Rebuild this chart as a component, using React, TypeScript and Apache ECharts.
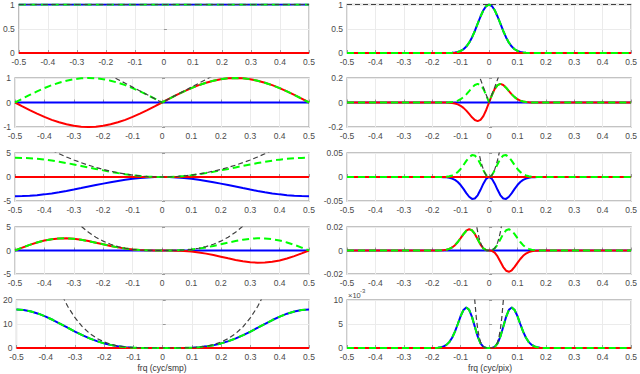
import React, { useEffect, useRef } from "react";
import * as echarts from "echarts";

// ---------- data ----------
const FREQ_ENDS = [-0.5, 0.5];
const ONES = [1, 1];
const ZEROS = [0, 0];

// left column (finite differences), cycles/sample
const FREQ_L = [-0.5,-0.475,-0.45,-0.425,-0.4,-0.375,-0.35,-0.325,-0.3,-0.275,-0.25,-0.225,-0.2,-0.175,-0.15,-0.125,-0.1,-0.075,-0.05,-0.025,0,0.025,0.05,0.075,0.1,0.125,0.15,0.175,0.2,0.225,0.25,0.275,0.3,0.325,0.35,0.375,0.4,0.425,0.45,0.475,0.5];
const L2_IMAG = [0,-0.1564,-0.309,-0.454,-0.5878,-0.7071,-0.809,-0.891,-0.9511,-0.9877,-1,-0.9877,-0.9511,-0.891,-0.809,-0.7071,-0.5878,-0.454,-0.309,-0.1564,0,0.1564,0.309,0.454,0.5878,0.7071,0.809,0.891,0.9511,0.9877,1,0.9877,0.9511,0.891,0.809,0.7071,0.5878,0.454,0.309,0.1564,0];
const L2_MAG = [0,0.1564,0.309,0.454,0.5878,0.7071,0.809,0.891,0.9511,0.9877,1,0.9877,0.9511,0.891,0.809,0.7071,0.5878,0.454,0.309,0.1564,0,0.1564,0.309,0.454,0.5878,0.7071,0.809,0.891,0.9511,0.9877,1,0.9877,0.9511,0.891,0.809,0.7071,0.5878,0.454,0.309,0.1564,0];
const L3_REAL = [-4,-3.9754,-3.9021,-3.782,-3.618,-3.4142,-3.1756,-2.908,-2.618,-2.3129,-2,-1.6871,-1.382,-1.092,-0.8244,-0.5858,-0.382,-0.218,-0.0979,-0.0246,0,-0.0246,-0.0979,-0.218,-0.382,-0.5858,-0.8244,-1.092,-1.382,-1.6871,-2,-2.3129,-2.618,-2.908,-3.1756,-3.4142,-3.618,-3.782,-3.9021,-3.9754,-4];
const L3_MAG = [4,3.9754,3.9021,3.782,3.618,3.4142,3.1756,2.908,2.618,2.3129,2,1.6871,1.382,1.092,0.8244,0.5858,0.382,0.218,0.0979,0.0246,0,0.0246,0.0979,0.218,0.382,0.5858,0.8244,1.092,1.382,1.6871,2,2.3129,2.618,2.908,3.1756,3.4142,3.618,3.782,3.9021,3.9754,4];
const L4_IMAG = [0,0.6219,1.2058,1.717,2.1266,2.4142,2.5691,2.591,2.4899,2.2844,2,1.6664,1.3143,0.973,0.667,0.4142,0.2245,0.099,0.0302,0.0039,0,-0.0039,-0.0302,-0.099,-0.2245,-0.4142,-0.667,-0.973,-1.3143,-1.6664,-2,-2.2844,-2.4899,-2.591,-2.5691,-2.4142,-2.1266,-1.717,-1.2058,-0.6219,0];
const L4_MAG = [0,0.6219,1.2058,1.717,2.1266,2.4142,2.5691,2.591,2.4899,2.2844,2,1.6664,1.3143,0.973,0.667,0.4142,0.2245,0.099,0.0302,0.0039,0,0.0039,0.0302,0.099,0.2245,0.4142,0.667,0.973,1.3143,1.6664,2,2.2844,2.4899,2.591,2.5691,2.4142,2.1266,1.717,1.2058,0.6219,0];
const L5_REAL = [16,15.8036,15.2265,14.3037,13.0901,11.6568,10.0842,8.4564,6.8541,5.3494,4,2.8464,1.9098,1.1925,0.6797,0.3431,0.1459,0.0475,0.0096,0.0006,0,0.0006,0.0096,0.0475,0.1459,0.3431,0.6797,1.1925,1.9098,2.8464,4,5.3494,6.8541,8.4564,10.0842,11.6568,13.0901,14.3037,15.2265,15.8036,16];

// ideal responses (black dashed), left column
const IDEAL_FREQ_L = [-0.375,-0.35,-0.325,-0.3,-0.275,-0.25,-0.225,-0.2,-0.175,-0.15,-0.125,-0.1,-0.075,-0.05,-0.025,0,0.025,0.05,0.075,0.1,0.125,0.15,0.175,0.2,0.225,0.25,0.275,0.3,0.325,0.35,0.375];
const IDEAL_L_D1 = [2.3562,2.1991,2.042,1.885,1.7279,1.5708,1.4137,1.2566,1.0996,0.9425,0.7854,0.6283,0.4712,0.3142,0.1571,0,0.1571,0.3142,0.4712,0.6283,0.7854,0.9425,1.0996,1.2566,1.4137,1.5708,1.7279,1.885,2.042,2.1991,2.3562];
const IDEAL_L_D2 = [5.5517,4.8361,4.1699,3.5531,2.9856,2.4674,1.9986,1.5791,1.209,0.8883,0.6169,0.3948,0.2221,0.0987,0.0247,0,0.0247,0.0987,0.2221,0.3948,0.6169,0.8883,1.209,1.5791,1.9986,2.4674,2.9856,3.5531,4.1699,4.8361,5.5517];
const IDEAL_L_D3 = [13.0808,10.6351,8.5151,6.6973,5.1587,3.8758,2.8254,1.9844,1.3294,0.8372,0.4845,0.2481,0.1046,0.031,0.0039,0,0.0039,0.031,0.1046,0.2481,0.4845,0.8372,1.3294,1.9844,2.8254,3.8758,5.1587,6.6973,8.5151,10.6351,13.0808];
const IDEAL_L_D4 = [30.8208,23.3879,17.3881,12.624,8.9135,6.0881,3.9944,2.4937,1.4617,0.789,0.3805,0.1559,0.0493,0.0097,0.0006,0,0.0006,0.0097,0.0493,0.1559,0.3805,0.789,1.4617,2.4937,3.9944,6.0881,8.9135,12.624,17.3881,23.3879,30.8208];

// right column (Gaussian derivatives), cycles/pixel
const FREQ_R = [-0.5,-0.2,-0.19,-0.18,-0.17,-0.16,-0.15,-0.14,-0.13,-0.12,-0.11,-0.1,-0.09,-0.08,-0.07,-0.06,-0.05,-0.04,-0.03,-0.02,-0.01,0,0.01,0.02,0.03,0.04,0.05,0.06,0.07,0.08,0.09,0.1,0.11,0.12,0.13,0.14,0.15,0.16,0.17,0.18,0.19,0.2,0.5];
const R1_REAL = [0,0,0,0,0.0001,0.0003,0.0008,0.002,0.0048,0.0106,0.0219,0.0425,0.0774,0.1325,0.2128,0.3208,0.454,0.6033,0.7526,0.8813,0.9689,1,0.9689,0.8813,0.7526,0.6033,0.454,0.3208,0.2128,0.1325,0.0774,0.0425,0.0219,0.0106,0.0048,0.002,0.0008,0.0003,0.0001,0,0,0,0];
const R2_IMAG = [0,0,-0.00001,-0.00004,-0.00012,-0.00031,-0.00077,-0.0018,-0.0039,-0.008,-0.0151,-0.0267,-0.0438,-0.0666,-0.0936,-0.1209,-0.1426,-0.1516,-0.1419,-0.1108,-0.0609,0,0.0609,0.1108,0.1419,0.1516,0.1426,0.1209,0.0936,0.0666,0.0438,0.0267,0.0151,0.008,0.0039,0.0018,0.00077,0.00031,0.00012,0.00004,0.00001,0,0];
const R2_MAG = [0,0,0.00001,0.00004,0.00012,0.00031,0.00077,0.0018,0.0039,0.008,0.0151,0.0267,0.0438,0.0666,0.0936,0.1209,0.1426,0.1516,0.1419,0.1108,0.0609,0,0.0609,0.1108,0.1419,0.1516,0.1426,0.1209,0.0936,0.0666,0.0438,0.0267,0.0151,0.008,0.0039,0.0018,0.00077,0.00031,0.00012,0.00004,0.00001,0,0];
const R3_REAL = [0,-0.000005,-0.000016,-0.000046,-0.000124,-0.000311,-0.000728,-0.001585,-0.003205,-0.006015,-0.010461,-0.016778,-0.024751,-0.033478,-0.041165,-0.045593,-0.044808,-0.038108,-0.026741,-0.013917,-0.003825,0,-0.003825,-0.013917,-0.026741,-0.038108,-0.044808,-0.045593,-0.041165,-0.033478,-0.024751,-0.016778,-0.010461,-0.006015,-0.003205,-0.001585,-0.000728,-0.000311,-0.000124,-0.000046,-0.000016,-0.000005,0];
const R3_MAG = [0,0.000005,0.000016,0.000046,0.000124,0.000311,0.000728,0.001585,0.003205,0.006015,0.010461,0.016778,0.024751,0.033478,0.041165,0.045593,0.044808,0.038108,0.026741,0.013917,0.003825,0,0.003825,0.013917,0.026741,0.038108,0.044808,0.045593,0.041165,0.033478,0.024751,0.016778,0.010461,0.006015,0.003205,0.001585,0.000728,0.000311,0.000124,0.000046,0.000016,0.000005,0];
const R4_IMAG = [0,0.0000065,0.000019,0.000052,0.000133,0.000313,0.000686,0.001395,0.002618,0.004535,0.00723,0.010542,0.013996,0.016828,0.018105,0.017188,0.014077,0.009578,0.005041,0.001749,0.00024,0,-0.00024,-0.001749,-0.005041,-0.009578,-0.014077,-0.017188,-0.018105,-0.016828,-0.013996,-0.010542,-0.00723,-0.004535,-0.002618,-0.001395,-0.000686,-0.000313,-0.000133,-0.000052,-0.000019,-0.0000065,0];
const R4_MAG = [0,0.0000065,0.000019,0.000052,0.000133,0.000313,0.000686,0.001395,0.002618,0.004535,0.00723,0.010542,0.013996,0.016828,0.018105,0.017188,0.014077,0.009578,0.005041,0.001749,0.00024,0,0.00024,0.001749,0.005041,0.009578,0.014077,0.017188,0.018105,0.016828,0.013996,0.010542,0.00723,0.004535,0.002618,0.001395,0.000686,0.000313,0.000133,0.000052,0.000019,0.0000065,0];
const R5_REAL = [0,0.0000082,0.0000227,0.0000587,0.000142,0.000315,0.000647,0.001227,0.002138,0.003419,0.004997,0.006624,0.007915,0.008459,0.007963,0.00648,0.004422,0.002407,0.00095,0.00022,0.0000151,0,0.0000151,0.00022,0.00095,0.002407,0.004422,0.00648,0.007963,0.008459,0.007915,0.006624,0.004997,0.003419,0.002138,0.001227,0.000647,0.000315,0.000142,0.0000587,0.0000227,0.0000082,0];

// ideal responses (black dashed), right column
const IDEAL_FREQ_R = [-0.06,-0.055,-0.05,-0.045,-0.04,-0.035,-0.03,-0.025,-0.02,-0.015,-0.01,-0.005,0,0.005,0.01,0.015,0.02,0.025,0.03,0.035,0.04,0.045,0.05,0.055,0.06];
const IDEAL_R_D1 = [0.377,0.3456,0.3142,0.2827,0.2513,0.2199,0.1885,0.1571,0.1257,0.0942,0.0628,0.0314,0,0.0314,0.0628,0.0942,0.1257,0.1571,0.1885,0.2199,0.2513,0.2827,0.3142,0.3456,0.377];
const IDEAL_R_D2 = [0.142122,0.119422,0.098696,0.079942,0.063165,0.048361,0.035531,0.024674,0.015791,0.008883,0.003948,0.000987,0,0.000987,0.003948,0.008883,0.015791,0.024674,0.035531,0.048361,0.063165,0.079942,0.098696,0.119422,0.142122];
const IDEAL_R_D3 = [0.053578,0.041269,0.031006,0.022603,0.015875,0.010636,0.006698,0.003876,0.001984,0.000837,0.000248,0.000031,0,0.000031,0.000248,0.000837,0.001984,0.003876,0.006698,0.010636,0.015875,0.022603,0.031006,0.041269,0.053578];
const IDEAL_R_D4 = [0.020199,0.014262,0.009741,0.006391,0.00399,0.002339,0.001262,0.000609,0.000249,0.0000789,0.0000156,0.000001,0,0.000001,0.0000156,0.0000789,0.000249,0.000609,0.001262,0.002339,0.00399,0.006391,0.009741,0.014262,0.020199];

// y axis ranges per panel (ticks)
const Y_TICKS_L = [[0, 0.5, 1], [-1, 0, 1], [-5, 0, 5], [-5, 0, 5], [0, 10, 20]];
const Y_TICKS_R = [[0, 0.5, 1], [-0.2, 0, 0.2], [-0.05, 0, 0.05], [-0.02, 0, 0.02], [0, 0.005, 0.01]];
const X_TITLES = ["frq (cyc/smp)", "frq (cyc/pix)"];

// ---------- layout / style ----------
const COL_LEFT = [15, 347];
const COL_WIDTH = [294, 286];
const ROW_TOP = [4, 78, 153, 227, 300];
const ROW_HEIGHT = [49, 49, 48, 47, 48];
const FONT = "'Liberation Sans', Arial, Helvetica, sans-serif";
const LABEL_COLOR = "#4a4a4a";

type Kind = "real" | "imag" | "mag" | "ideal";
type LineDef = [Kind, number[], number[]];

const STYLE: Record<Kind, any> = {
  real: { color: "#0000ff", width: 2, type: "solid" },
  imag: { color: "#ff0000", width: 2, type: "solid" },
  mag: { color: "#00ff00", width: 2, type: [7, 4] },
  ideal: { color: "#404040", width: 1.2, type: [5, 3] },
};

const PANELS: { col: number; row: number; lines: LineDef[] }[] = [
  { col: 0, row: 0, lines: [["real", FREQ_ENDS, ONES], ["imag", FREQ_ENDS, ZEROS], ["mag", FREQ_ENDS, ONES], ["ideal", FREQ_ENDS, ONES]] },
  { col: 0, row: 1, lines: [["real", FREQ_ENDS, ZEROS], ["imag", FREQ_L, L2_IMAG], ["mag", FREQ_L, L2_MAG], ["ideal", IDEAL_FREQ_L, IDEAL_L_D1]] },
  { col: 0, row: 2, lines: [["real", FREQ_L, L3_REAL], ["imag", FREQ_ENDS, ZEROS], ["mag", FREQ_L, L3_MAG], ["ideal", IDEAL_FREQ_L, IDEAL_L_D2]] },
  { col: 0, row: 3, lines: [["real", FREQ_ENDS, ZEROS], ["imag", FREQ_L, L4_IMAG], ["mag", FREQ_L, L4_MAG], ["ideal", IDEAL_FREQ_L, IDEAL_L_D3]] },
  { col: 0, row: 4, lines: [["real", FREQ_L, L5_REAL], ["imag", FREQ_ENDS, ZEROS], ["mag", FREQ_L, L5_REAL], ["ideal", IDEAL_FREQ_L, IDEAL_L_D4]] },
  { col: 1, row: 0, lines: [["real", FREQ_R, R1_REAL], ["imag", FREQ_ENDS, ZEROS], ["mag", FREQ_R, R1_REAL], ["ideal", FREQ_ENDS, ONES]] },
  { col: 1, row: 1, lines: [["real", FREQ_ENDS, ZEROS], ["imag", FREQ_R, R2_IMAG], ["mag", FREQ_R, R2_MAG], ["ideal", IDEAL_FREQ_R, IDEAL_R_D1]] },
  { col: 1, row: 2, lines: [["real", FREQ_R, R3_REAL], ["imag", FREQ_ENDS, ZEROS], ["mag", FREQ_R, R3_MAG], ["ideal", IDEAL_FREQ_R, IDEAL_R_D2]] },
  { col: 1, row: 3, lines: [["real", FREQ_ENDS, ZEROS], ["imag", FREQ_R, R4_IMAG], ["mag", FREQ_R, R4_MAG], ["ideal", IDEAL_FREQ_R, IDEAL_R_D3]] },
  { col: 1, row: 4, lines: [["real", FREQ_R, R5_REAL], ["imag", FREQ_ENDS, ZEROS], ["mag", FREQ_R, R5_REAL], ["ideal", IDEAL_FREQ_R, IDEAL_R_D4]] },
];

function buildOption() {
  const grid: any[] = [];
  const xAxis: any[] = [];
  const yAxis: any[] = [];
  const series: any[] = [];

  PANELS.forEach((p, i) => {
    const ticks = (p.col === 0 ? Y_TICKS_L : Y_TICKS_R)[p.row];
    const isScaled = p.col === 1 && p.row === 4;
    grid.push({
      left: COL_LEFT[p.col],
      top: ROW_TOP[p.row],
      width: COL_WIDTH[p.col],
      height: ROW_HEIGHT[p.row],
      show: true,
      borderColor: "#b0b0b0",
      borderWidth: 1.3,
      backgroundColor: "transparent",
    });
    xAxis.push({
      type: "value",
      gridIndex: i,
      min: -0.5,
      max: 0.5,
      interval: 0.1,
      axisLine: { show: false },
      axisTick: { show: true, inside: true, length: 3, lineStyle: { color: "#9a9a9a" } },
      splitLine: { show: true, lineStyle: { color: "#ebebeb", width: 1 } },
      axisLabel: { fontSize: 8.5, color: LABEL_COLOR, fontFamily: FONT, margin: 4, showMinLabel: true, showMaxLabel: true },
    });
    yAxis.push({
      type: "value",
      gridIndex: i,
      min: ticks[0],
      max: ticks[2],
      interval: ticks[1] - ticks[0],
      axisLine: { show: false },
      axisTick: { show: true, inside: true, length: 3, lineStyle: { color: "#9a9a9a" } },
      splitLine: { show: true, lineStyle: { color: "#ebebeb", width: 1 } },
      axisLabel: {
        fontSize: 8.5,
        color: LABEL_COLOR,
        fontFamily: FONT,
        margin: 4,
        showMinLabel: true,
        showMaxLabel: true,
        formatter: isScaled ? (v: number) => String(Math.round(v * 1000)) : undefined,
      },
    });
    p.lines.forEach(([kind, xs, ys]) => {
      series.push({
        type: "line",
        xAxisIndex: i,
        yAxisIndex: i,
        data: xs.map((x, k) => [x, ys[k]]),
        showSymbol: false,
        symbol: "none",
        clip: true,
        lineStyle: STYLE[kind],
        emphasis: { disabled: true },
        silent: true,
      });
    });
  });

  const graphic: any[] = [
    {
      type: "text",
      x: COL_LEFT[0] + COL_WIDTH[0] / 2,
      y: 368,
      style: { text: X_TITLES[0], font: `8.5px ${FONT}`, fill: "#333", textAlign: "center", textVerticalAlign: "middle" },
    },
    {
      type: "text",
      x: COL_LEFT[1] + COL_WIDTH[1] / 2,
      y: 368,
      style: { text: X_TITLES[1], font: `8.5px ${FONT}`, fill: "#333", textAlign: "center", textVerticalAlign: "middle" },
    },
    {
      type: "text",
      left: 348,
      top: 291,
      style: { text: "\u00d710", font: `7.5px ${FONT}`, fill: LABEL_COLOR },
    },
    {
      type: "text",
      left: 360,
      top: 288,
      style: { text: "-3", font: `6px ${FONT}`, fill: LABEL_COLOR },
    },
  ];

  return { animation: false, backgroundColor: "#ffffff", grid, xAxis, yAxis, series, graphic };
}

export default function App() {
  const ref = useRef<HTMLDivElement>(null);
  useEffect(() => {
    if (!ref.current) return;
    const chart = echarts.init(ref.current, null, { renderer: "svg" });
    chart.setOption(buildOption());
    return () => chart.dispose();
  }, []);
  return (
    <div
      ref={ref}
      style={{ position: "absolute", left: 0, top: 0, width: 640, height: 374, background: "#fff" }}
    />
  );
}
